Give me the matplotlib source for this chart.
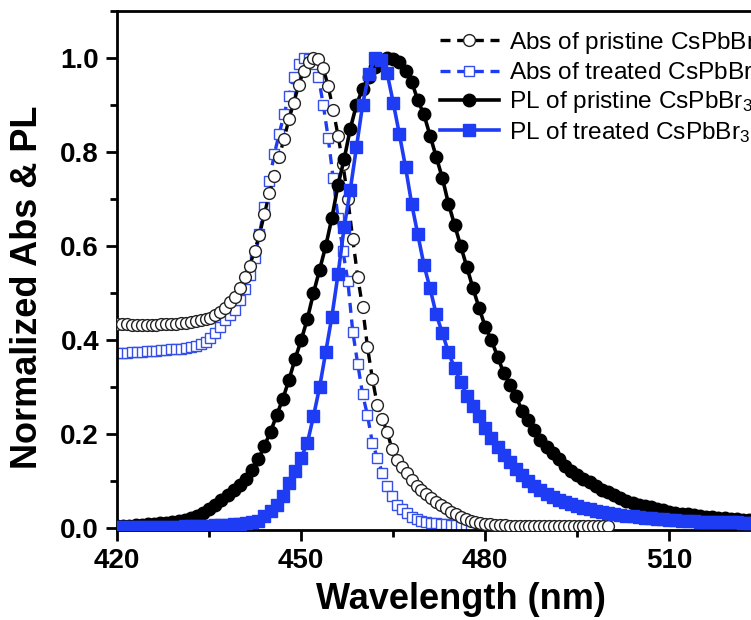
import numpy as np
import matplotlib
matplotlib.use("Agg")
import matplotlib.pyplot as plt
from matplotlib.ticker import MultipleLocator

plt.rcParams['font.family'] = ['Liberation Sans', 'DejaVu Sans']
plt.rcParams['mathtext.default'] = 'regular'

# absorption spectra, sampled every 0.8 nm from 420 nm
abs_step = 0.8
abs_pristine = [
    0.434, 0.434, 0.434, 0.433, 0.433, 0.433, 0.433, 0.433, 0.433, 0.434,
    0.434, 0.434, 0.435, 0.436, 0.437, 0.438, 0.440, 0.442, 0.445, 0.448,
    0.453, 0.460, 0.469, 0.480, 0.491, 0.510, 0.534, 0.558, 0.590, 0.624,
    0.668, 0.712, 0.748, 0.790, 0.828, 0.870, 0.905, 0.943, 0.972, 0.992,
    1.000, 0.997, 0.978, 0.940, 0.890, 0.835, 0.775, 0.700, 0.615, 0.535,
    0.470, 0.385, 0.318, 0.262, 0.232, 0.205, 0.168, 0.145, 0.130, 0.118,
    0.102, 0.090, 0.080, 0.072, 0.064, 0.056, 0.050, 0.042, 0.035, 0.029,
    0.024, 0.020, 0.016, 0.013, 0.011, 0.009, 0.008, 0.007, 0.006, 0.006,
    0.005, 0.005, 0.005, 0.005, 0.005, 0.005, 0.004, 0.004, 0.004, 0.004,
    0.004, 0.004, 0.004, 0.004, 0.004, 0.004, 0.004, 0.004, 0.004, 0.004,
    0.004,
]
abs_treated = [
    0.372, 0.373, 0.373, 0.374, 0.374, 0.375, 0.376, 0.376, 0.377, 0.378,
    0.379, 0.380, 0.381, 0.382, 0.384, 0.386, 0.388, 0.391, 0.396, 0.404,
    0.415, 0.428, 0.443, 0.453, 0.465, 0.485, 0.508, 0.538, 0.575, 0.625,
    0.684, 0.738, 0.795, 0.838, 0.880, 0.920, 0.960, 0.988, 1.000, 0.998,
    0.988, 0.960, 0.900, 0.830, 0.745, 0.660, 0.590, 0.525, 0.418, 0.350,
    0.285, 0.240, 0.181, 0.150, 0.118, 0.090, 0.068, 0.050, 0.040, 0.032,
    0.024, 0.020, 0.016, 0.013, 0.011, 0.010, 0.009, 0.008, 0.007, 0.007,
    0.006, 0.006, 0.005,
]

# photoluminescence spectra, sampled every 1 nm from 420 nm
pl_step = 1.0
pl_pristine = [
    0.004, 0.005, 0.005, 0.006, 0.007, 0.008, 0.009, 0.010, 0.011, 0.013,
    0.015, 0.018, 0.021, 0.026, 0.032, 0.040, 0.050, 0.060, 0.071, 0.081,
    0.092, 0.105, 0.123, 0.146, 0.175, 0.205, 0.240, 0.275, 0.315, 0.360,
    0.400, 0.445, 0.500, 0.550, 0.600, 0.660, 0.730, 0.785, 0.850, 0.900,
    0.935, 0.960, 0.980, 0.995, 1.000, 0.999, 0.991, 0.972, 0.950, 0.910,
    0.880, 0.835, 0.790, 0.745, 0.690, 0.645, 0.600, 0.555, 0.510, 0.468,
    0.428, 0.400, 0.365, 0.330, 0.305, 0.280, 0.250, 0.230, 0.208, 0.188,
    0.172, 0.160, 0.146, 0.132, 0.121, 0.112, 0.104, 0.098, 0.090, 0.082,
    0.076, 0.070, 0.064, 0.058, 0.054, 0.050, 0.047, 0.044, 0.041, 0.038,
    0.035, 0.033, 0.031, 0.029, 0.027, 0.026, 0.024, 0.023, 0.022, 0.021,
    0.020, 0.019, 0.018, 0.017, 0.016, 0.015, 0.014, 0.013, 0.013, 0.012,
    0.011, 0.011, 0.010,
]
pl_treated = [
    0.003, 0.003, 0.003, 0.003, 0.003, 0.003, 0.003, 0.003, 0.003, 0.003,
    0.003, 0.004, 0.004, 0.004, 0.005, 0.005, 0.006, 0.006, 0.007, 0.008,
    0.009, 0.010, 0.012, 0.016, 0.025, 0.036, 0.050, 0.068, 0.095, 0.122,
    0.150, 0.181, 0.238, 0.300, 0.375, 0.450, 0.540, 0.640, 0.720, 0.810,
    0.900, 0.965, 1.000, 0.995, 0.968, 0.905, 0.838, 0.768, 0.690, 0.625,
    0.560, 0.510, 0.455, 0.415, 0.374, 0.340, 0.311, 0.282, 0.260, 0.238,
    0.213, 0.192, 0.172, 0.155, 0.140, 0.126, 0.112, 0.101, 0.090, 0.081,
    0.073, 0.066, 0.060, 0.055, 0.051, 0.047, 0.043, 0.040, 0.037, 0.035,
    0.032, 0.030, 0.028, 0.026, 0.025, 0.023, 0.022, 0.021, 0.020, 0.019,
    0.018, 0.017, 0.016, 0.015, 0.015, 0.014, 0.014, 0.013, 0.013, 0.012,
    0.012, 0.012, 0.011, 0.011, 0.011, 0.010, 0.010, 0.010, 0.009, 0.009,
    0.009, 0.009, 0.008,
]

labels = [
    'Abs of pristine CsPbBr$_3$',
    'Abs of treated CsPbBr$_3$',
    'PL of pristine CsPbBr$_3$',
    'PL of treated CsPbBr$_3$',
]

blue = '#1f3cf5'


def wl(start, step, n):
    return start + step * np.arange(n)


fig = plt.figure(figsize=(7.51, 6.2), dpi=100)
ax = fig.add_axes([0.156, 0.1452, 0.915, 0.837])

ax.plot(wl(420, abs_step, len(abs_treated)), abs_treated, ls='--', lw=2.4,
        color=blue, marker='s', ms=7.5, mfc='white', mec='#3550e8', mew=1.0,
        dashes=(3, 2), label=labels[1], zorder=2)
ax.plot(wl(420, abs_step, len(abs_pristine)), abs_pristine, ls='--', lw=2.4,
        color='black', marker='o', ms=8.5, mfc='white', mec='#222222', mew=1.0,
        dashes=(3, 2), label=labels[0], zorder=3)
ax.plot(wl(420, pl_step, len(pl_pristine)), pl_pristine, ls='-', lw=2.6,
        color='black', marker='o', ms=9, label=labels[2], zorder=4)
ax.plot(wl(420, pl_step, len(pl_treated)), pl_treated, ls='-', lw=2.6,
        color=blue, marker='s', ms=8, label=labels[3], zorder=5)

ax.set_xlim(420, 532)
ax.set_ylim(-0.004, 1.1)
ax.set_xticks([420, 450, 480, 510])
ax.set_yticks([0.0, 0.2, 0.4, 0.6, 0.8, 1.0])
ax.xaxis.set_minor_locator(MultipleLocator(15))
ax.yaxis.set_minor_locator(MultipleLocator(0.1))
ax.tick_params(which='major', direction='out', length=8, width=2,
               labelsize=20, pad=5)
ax.tick_params(which='minor', direction='out', length=5, width=2)
for lab in ax.get_xticklabels() + ax.get_yticklabels():
    lab.set_fontweight('bold')
for sp in ax.spines.values():
    sp.set_linewidth(2)

ax.set_xlabel('Wavelength (nm)', fontsize=26, fontweight='bold', labelpad=6)
ax.set_ylabel('Normalized Abs & PL', fontsize=26, fontweight='bold')
ax.yaxis.set_label_coords(-0.105, 0.468)

handles, labs = ax.get_legend_handles_labels()
order = [1, 0, 2, 3]
ax.legend([handles[i] for i in order], [labs[i] for i in order],
          loc='upper left', bbox_to_anchor=(0.586, 0.952),
          bbox_transform=fig.transFigure, frameon=False, fontsize=17.6,
          handlelength=2.4, handletextpad=0.4, labelspacing=0.18,
          borderpad=0, borderaxespad=0)

fig.savefig('out.png', dpi=100)
